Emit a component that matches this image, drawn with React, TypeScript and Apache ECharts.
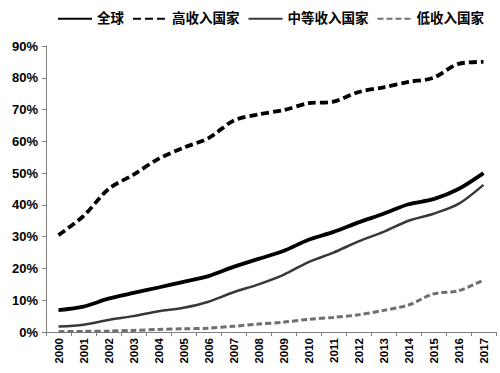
import React, { useEffect, useRef } from "react";
import * as echarts from "echarts";

const years = ["2000","2001","2002","2003","2004","2005","2006","2007","2008","2009","2010","2011","2012","2013","2014","2015","2016","2017"];
const world = [6.9, 8.0, 10.5, 12.3, 14.0, 15.8, 17.6, 20.5, 23.0, 25.5, 29.0, 31.5, 34.5, 37.2, 40.2, 41.8, 45.0, 50.0];
const highIncome = [30.5, 36.5, 45.0, 49.5, 54.5, 58.0, 61.0, 66.5, 68.5, 69.8, 72.0, 72.5, 75.5, 77.0, 78.7, 80.0, 84.4, 85.0];
const middleIncome = [1.7, 2.3, 3.8, 5.0, 6.5, 7.6, 9.5, 12.5, 15.0, 18.0, 22.0, 25.0, 28.5, 31.5, 35.0, 37.2, 40.3, 46.3];
const lowIncome = [0.1, 0.2, 0.3, 0.5, 0.8, 1.0, 1.2, 1.8, 2.5, 3.1, 4.0, 4.6, 5.4, 6.8, 8.5, 12.0, 13.0, 16.3];
const yTicks = [0, 10, 20, 30, 40, 50, 60, 70, 80, 90];

const FONT = "'Liberation Sans', Arial, 'Noto Sans CJK SC', sans-serif";

export default function App() {
  const ref = useRef<HTMLDivElement>(null);
  useEffect(() => {
    if (!ref.current) return;
    const chart = echarts.init(ref.current, undefined, { renderer: "svg" });
    chart.setOption({
      animation: false,
      textStyle: { fontFamily: FONT },
      legend: {
        top: 7,
        left: 52,
        itemWidth: 34,
        itemHeight: 10,
        itemGap: 8,
        itemStyle: { opacity: 0 },
        textStyle: { fontFamily: FONT, fontWeight: "bold", fontSize: 13.5, color: "#000" },
        data: ["全球", "高收入国家", "中等收入国家", "低收入国家"],
      },
      grid: { left: 46, right: 4, top: 46, bottom: 41, containLabel: false },
      xAxis: {
        type: "category",
        data: years,
        boundaryGap: true,
        axisLine: { lineStyle: { color: "#7f7f7f", width: 1 } },
        axisTick: { show: true, length: 4, lineStyle: { color: "#7f7f7f" } },
        axisLabel: { rotate: 90, interval: 0, fontWeight: "bold", fontSize: 11.5, color: "#000", fontFamily: FONT, margin: 6 },
      },
      yAxis: {
        type: "value",
        min: 0,
        max: 90,
        interval: 10,
        axisLine: { show: true, lineStyle: { color: "#7f7f7f", width: 1 } },
        axisTick: { show: true, length: 4, lineStyle: { color: "#7f7f7f" } },
        splitLine: { show: false },
        axisLabel: {
          formatter: (v: number) => (yTicks.includes(v) ? v + "%" : ""),
          fontWeight: "bold",
          fontSize: 13,
          color: "#000",
          fontFamily: FONT,
          margin: 8,
        },
      },
      series: [
        { name: "全球", type: "line", data: world, symbol: "none", smooth: 0.3, lineStyle: { color: "#000", width: 3.8 }, itemStyle: { color: "#000" } },
        { name: "高收入国家", type: "line", data: highIncome, symbol: "none", smooth: 0.3, lineStyle: { color: "#000", width: 3.8, type: [8, 4] }, itemStyle: { color: "#000" } },
        { name: "中等收入国家", type: "line", data: middleIncome, symbol: "none", smooth: 0.3, lineStyle: { color: "#383838", width: 2.5 }, itemStyle: { color: "#383838" } },
        { name: "低收入国家", type: "line", data: lowIncome, symbol: "none", smooth: 0.3, lineStyle: { color: "#6f6f6f", width: 3, type: [6, 3] }, itemStyle: { color: "#6f6f6f" } },
      ],
    });
    return () => chart.dispose();
  }, []);
  return <div ref={ref} style={{ width: 500, height: 373, position: "absolute", left: 0, top: 0 }} />;
}
